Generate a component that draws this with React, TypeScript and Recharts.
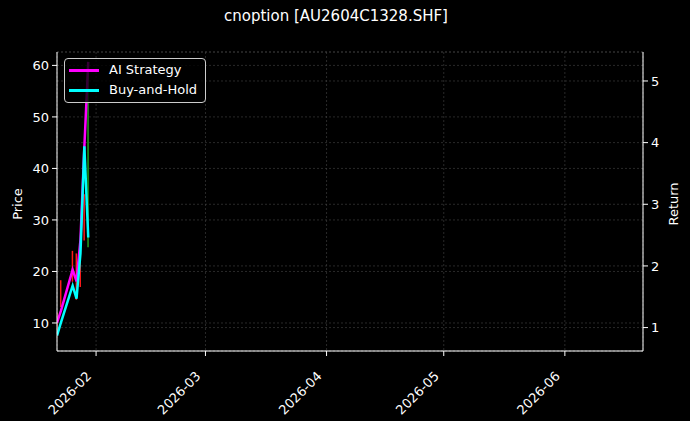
import { ComposedChart, Line, Bar, Cell, XAxis, YAxis, CartesianGrid, Legend } from 'recharts';

// trading days shown (the x range runs on to expiry in June)
const dates = ['2026-01-22', '2026-01-23', '2026-01-26', '2026-01-27', '2026-01-28', '2026-01-29', '2026-01-30'];
const aiStrategy = [1.08, 1.27, 1.94, 1.75, 2.42, 3.93, 5.31];
const buyHold = [0.87, 1.08, 1.68, 1.47, 2.2, 3.94, 2.46];
const priceOpen = [11, 17.5, 23, 22, 21, 34, 26];
const priceClose = [9, 14, 19, 16, 18, 27, 55];
const priceHigh = [12, 18.3, 24, 23.5, 22, 35, 60];
const priceLow = [8, 13.1, 18, 14.5, 17, 26, 24.7];

const xStart = '2026-01-22';
const xEnd = '2026-06-21';
const monthTicks = ['2026-02-01', '2026-03-01', '2026-04-01', '2026-05-01', '2026-06-01'];
const priceTicks = [10, 20, 30, 40, 50, 60];
const returnTicks = [1, 2, 3, 4, 5];
const priceDomain = [4.56, 62.6];
const returnDomain = [0.62, 5.47];

const ts = (d: string) => new Date(d + 'T00:00:00Z').getTime();

const data = dates.map((d, i) => ({
  t: ts(d),
  ai: aiStrategy[i],
  bh: buyHold[i],
  range: [priceLow[i], priceHigh[i]],
  up: priceClose[i] >= priceOpen[i],
}));

const FONT = 'DejaVu Sans, sans-serif';

const MonthTick = (props: any) => {
  const { x, y, payload } = props;
  const d = new Date(payload.value);
  const label = `${d.getUTCFullYear()}-${String(d.getUTCMonth() + 1).padStart(2, '0')}`;
  return (
    <g transform={`translate(${x - 4},${y + 19})`}>
      <text textAnchor="end" transform="rotate(-45)" fill="#fff" fontSize={13} fontFamily={FONT}>
        {label}
      </text>
    </g>
  );
};

const LegendBox = () => (
  <div
    style={{
      background: 'rgba(0,0,0,0.8)',
      border: '1px solid #ccc',
      borderRadius: 4,
      padding: '1px 8px 2px 4px',
      fontFamily: FONT,
      fontSize: 13,
      color: '#fff',
      lineHeight: '20px',
    }}
  >
    {[
      { name: 'AI Strategy', color: '#ff00ff' },
      { name: 'Buy-and-Hold', color: '#00ffff' },
    ].map((s) => (
      <div key={s.name} style={{ display: 'flex', alignItems: 'center' }}>
        <span style={{ display: 'inline-block', width: 30, height: 3, background: s.color, marginRight: 10 }} />
        {s.name}
      </div>
    ))}
  </div>
);

export default function App() {
  return (
    <div style={{ position: 'absolute', left: 0, top: 0, width: 690, height: 421, background: '#000', fontFamily: FONT }}>
      <div style={{ position: 'absolute', top: 7, left: 0, width: 672, textAlign: 'center', color: '#fff', fontSize: 15 }}>
        cnoption [AU2604C1328.SHF]
      </div>
      <div
        style={{
          position: 'absolute', left: 17, top: 204, color: '#fff', fontSize: 13,
          transform: 'translate(-50%, -50%) rotate(-90deg)', whiteSpace: 'nowrap',
        }}
      >
        Price
      </div>
      <div
        style={{
          position: 'absolute', left: 673, top: 204, color: '#fff', fontSize: 13,
          transform: 'translate(-50%, -50%) rotate(-90deg)', whiteSpace: 'nowrap',
        }}
      >
        Return
      </div>
      <ComposedChart width={690} height={421} data={data} margin={{ top: 52, right: 0, bottom: 0, left: 0 }}>
        <CartesianGrid yAxisId="price" stroke="#444" strokeDasharray="2 2" strokeWidth={0.6} />
        <CartesianGrid yAxisId="ret" vertical={false} stroke="#444" strokeDasharray="2 2" strokeWidth={0.6} />
        <XAxis
          dataKey="t"
          type="number"
          scale="time"
          domain={[ts(xStart), ts(xEnd)]}
          ticks={monthTicks.map(ts)}
          tick={<MonthTick />}
          height={70}
          tickSize={5}
          tickMargin={2}
          stroke="#fff"
          allowDataOverflow
        />
        <XAxis xAxisId="top" orientation="top" type="number" dataKey="t" domain={[ts(xStart), ts(xEnd)]} height={0} tick={false} tickLine={false} stroke="#fff" />
        <YAxis
          yAxisId="price"
          width={57}
          domain={priceDomain}
          ticks={priceTicks}
          allowDataOverflow
          stroke="#fff"
          tickSize={5}
          tickMargin={3}
          tick={{ fill: '#fff', fontSize: 13, fontFamily: FONT }}
        />
        <YAxis
          yAxisId="ret"
          orientation="right"
          width={47}
          domain={returnDomain}
          ticks={returnTicks}
          allowDataOverflow
          stroke="#fff"
          tickSize={5}
          tickMargin={3}
          tick={{ fill: '#fff', fontSize: 13, fontFamily: FONT, textAnchor: 'start' }}
        />
        <Bar yAxisId="price" dataKey="range" barSize={1.5} isAnimationActive={false}>
          {data.map((d, i) => (
            <Cell key={i} fill={d.up ? '#1f9e1f' : '#ff1a1a'} />
          ))}
        </Bar>
        <Line yAxisId="ret" dataKey="ai" name="AI Strategy" stroke="#ff00ff" strokeWidth={2.5} dot={false} type="linear" isAnimationActive={false} />
        <Line yAxisId="ret" dataKey="bh" name="Buy-and-Hold" stroke="#00ffff" strokeWidth={2.5} dot={false} type="linear" isAnimationActive={false} />
        <Legend
          layout="vertical"
          align="center"
          verticalAlign="middle"
          content={<LegendBox />}
          wrapperStyle={{ position: 'absolute', left: 64, top: 58, width: 'auto', height: 'auto' }}
        />
      </ComposedChart>
    </div>
  );
}
